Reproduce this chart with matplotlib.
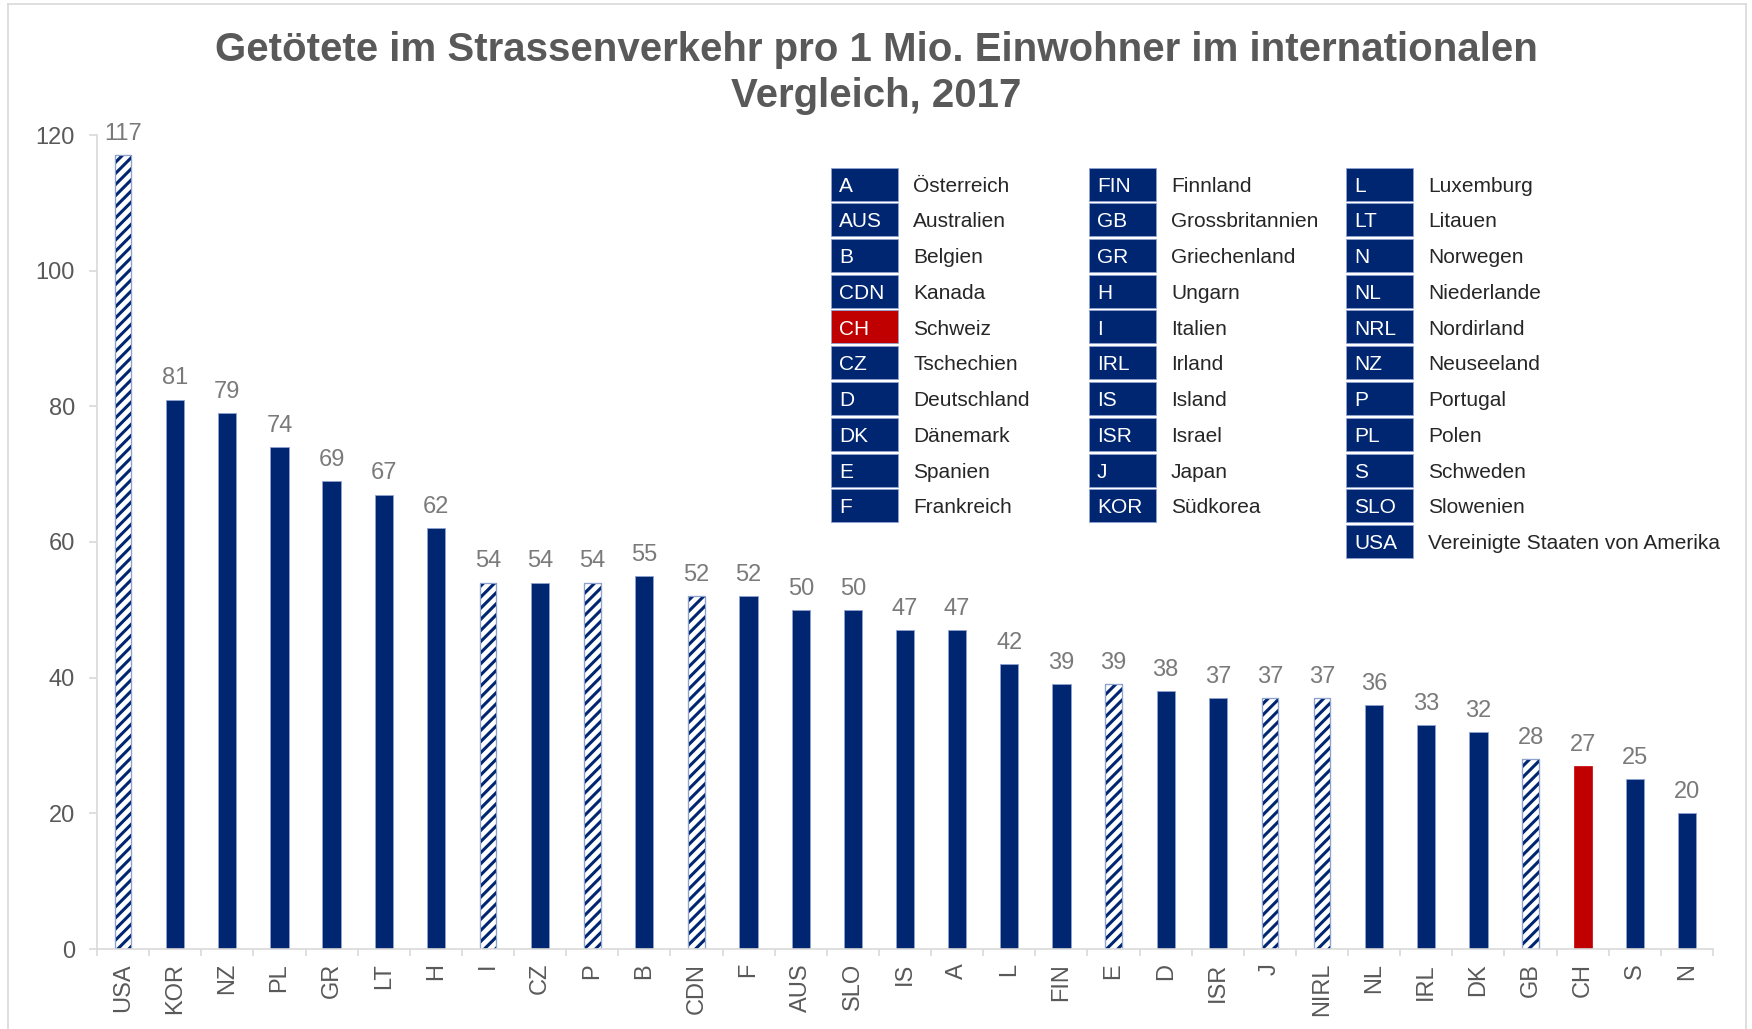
import matplotlib
matplotlib.use("Agg")
import matplotlib.pyplot as plt
from matplotlib.patches import Rectangle
from matplotlib.lines import Line2D

plt.rcParams['font.family'] = ['Liberation Sans', 'DejaVu Sans']
plt.rcParams['hatch.linewidth'] = 2.2

# ---- data ----
countries = ["USA", "KOR", "NZ", "PL", "GR", "LT", "H", "I", "CZ", "P", "B", "CDN", "F",
             "AUS", "SLO", "IS", "A", "L", "FIN", "E", "D", "ISR", "J", "NIRL", "NL",
             "IRL", "DK", "GB", "CH", "S", "N"]
values = [117, 81, 79, 74, 69, 67, 62, 54, 54, 54, 55, 52, 52,
          50, 50, 47, 47, 42, 39, 39, 38, 37, 37, 37, 36,
          33, 32, 28, 27, 25, 20]
hatched = ["USA", "I", "P", "CDN", "E", "J", "NIRL", "GB"]
highlight = ["CH"]

legend_codes = [
    ["A", "AUS", "B", "CDN", "CH", "CZ", "D", "DK", "E", "F"],
    ["FIN", "GB", "GR", "H", "I", "IRL", "IS", "ISR", "J", "KOR"],
    ["L", "LT", "N", "NL", "NRL", "NZ", "P", "PL", "S", "SLO", "USA"],
]
legend_names = [
    ["Österreich", "Australien", "Belgien", "Kanada", "Schweiz", "Tschechien",
     "Deutschland", "Dänemark", "Spanien", "Frankreich"],
    ["Finnland", "Grossbritannien", "Griechenland", "Ungarn", "Italien", "Irland",
     "Island", "Israel", "Japan", "Südkorea"],
    ["Luxemburg", "Litauen", "Norwegen", "Niederlande", "Nordirland", "Neuseeland",
     "Portugal", "Polen", "Schweden", "Slowenien", "Vereinigte Staaten von Amerika"],
]

title = "Getötete im Strassenverkehr pro 1 Mio. Einwohner im internationalen\nVergleich, 2017"

NAVY = "#002672"
RED = "#C00000"
GRAY = "#595959"
LABEL_GRAY = "#7a7a7a"
AXIS_GRAY = "#d9d9d9"

W, H = 1752, 1029
fig = plt.figure(figsize=(W / 100, H / 100), dpi=100)
ax = fig.add_axes([97 / W, (H - 949) / H, (1713 - 97) / W, (949 - 135) / H])

x = list(range(len(countries)))
for xi, c, v in zip(x, countries, values):
    if c in highlight:
        ax.bar(xi, v, width=0.35, color=RED, edgecolor=RED, linewidth=0.5)
    elif c in hatched:
        ax.bar(xi, v, width=0.32, facecolor="white", edgecolor=NAVY, hatch="///", linewidth=0.8)
        ax.bar(xi, v, width=0.32, facecolor="none", edgecolor="#8fa3cf", linewidth=0.8)
    else:
        ax.bar(xi, v, width=0.35, color=NAVY, edgecolor="#8fa3cf", linewidth=0.6)
    ax.annotate(str(v), (xi, v), xytext=(0, 11), textcoords="offset points",
                ha="center", va="baseline", fontsize=17, color=LABEL_GRAY,
                annotation_clip=False)

ax.set_xlim(-0.5, len(countries) - 0.5)
ax.set_ylim(0, 120)
ax.set_yticks([0, 20, 40, 60, 80, 100, 120])
ax.set_xticks(x)
ax.set_xticklabels(countries, rotation=90, fontsize=17, color=GRAY)
ax.tick_params(axis="y", labelsize=17, labelcolor=GRAY, color=AXIS_GRAY, length=5.8, width=1.2, pad=10)
ax.tick_params(axis="x", which="major", length=0, pad=10)
ax.set_xticks([i - 0.5 for i in range(len(countries) + 1)], minor=True)
ax.tick_params(axis="x", which="minor", length=5, color=AXIS_GRAY, width=1.2)
for s in ["top", "right"]:
    ax.spines[s].set_visible(False)
for s in ["left", "bottom"]:
    ax.spines[s].set_color(AXIS_GRAY)
    ax.spines[s].set_linewidth(1.2)

fig.text(876 / W, 1 - 73 / H, title, ha="center", va="center", fontsize=29,
         fontweight="bold", color=GRAY, linespacing=1.28,
         transform=fig.transFigure)

# legend (code boxes + names)
col_box_x = [831, 1089, 1346]
box_w, box_h = 67, 33
row0, row_step = 184, 35.75
for ci, (codes, names) in enumerate(zip(legend_codes, legend_names)):
    bx = col_box_x[ci]
    for ri, (code, name) in enumerate(zip(codes, names)):
        cy = row0 + ri * row_step
        fc = RED if code in highlight else NAVY
        fig.patches.append(Rectangle((bx / W, 1 - (cy + box_h / 2) / H), box_w / W, box_h / H,
                                     transform=fig.transFigure, facecolor=fc,
                                     edgecolor="#8fa3cf", linewidth=0.6))
        fig.text((bx + 8) / W, 1 - cy / H, code, ha="left", va="center_baseline",
                 fontsize=15, color="white")
        fig.text((bx + 82) / W, 1 - cy / H, name, ha="left", va="center_baseline",
                 fontsize=15, color="#262626")

# figure border
for (x0, y0, x1, y1) in [(8, 4, 1746, 4), (8, 4, 8, 1029), (1746, 4, 1746, 1029)]:
    fig.add_artist(Line2D([x0 / W, x1 / W], [1 - y0 / H, 1 - y1 / H],
                          transform=fig.transFigure, color=AXIS_GRAY, linewidth=1.2))

fig.savefig("out.png", dpi=100)
